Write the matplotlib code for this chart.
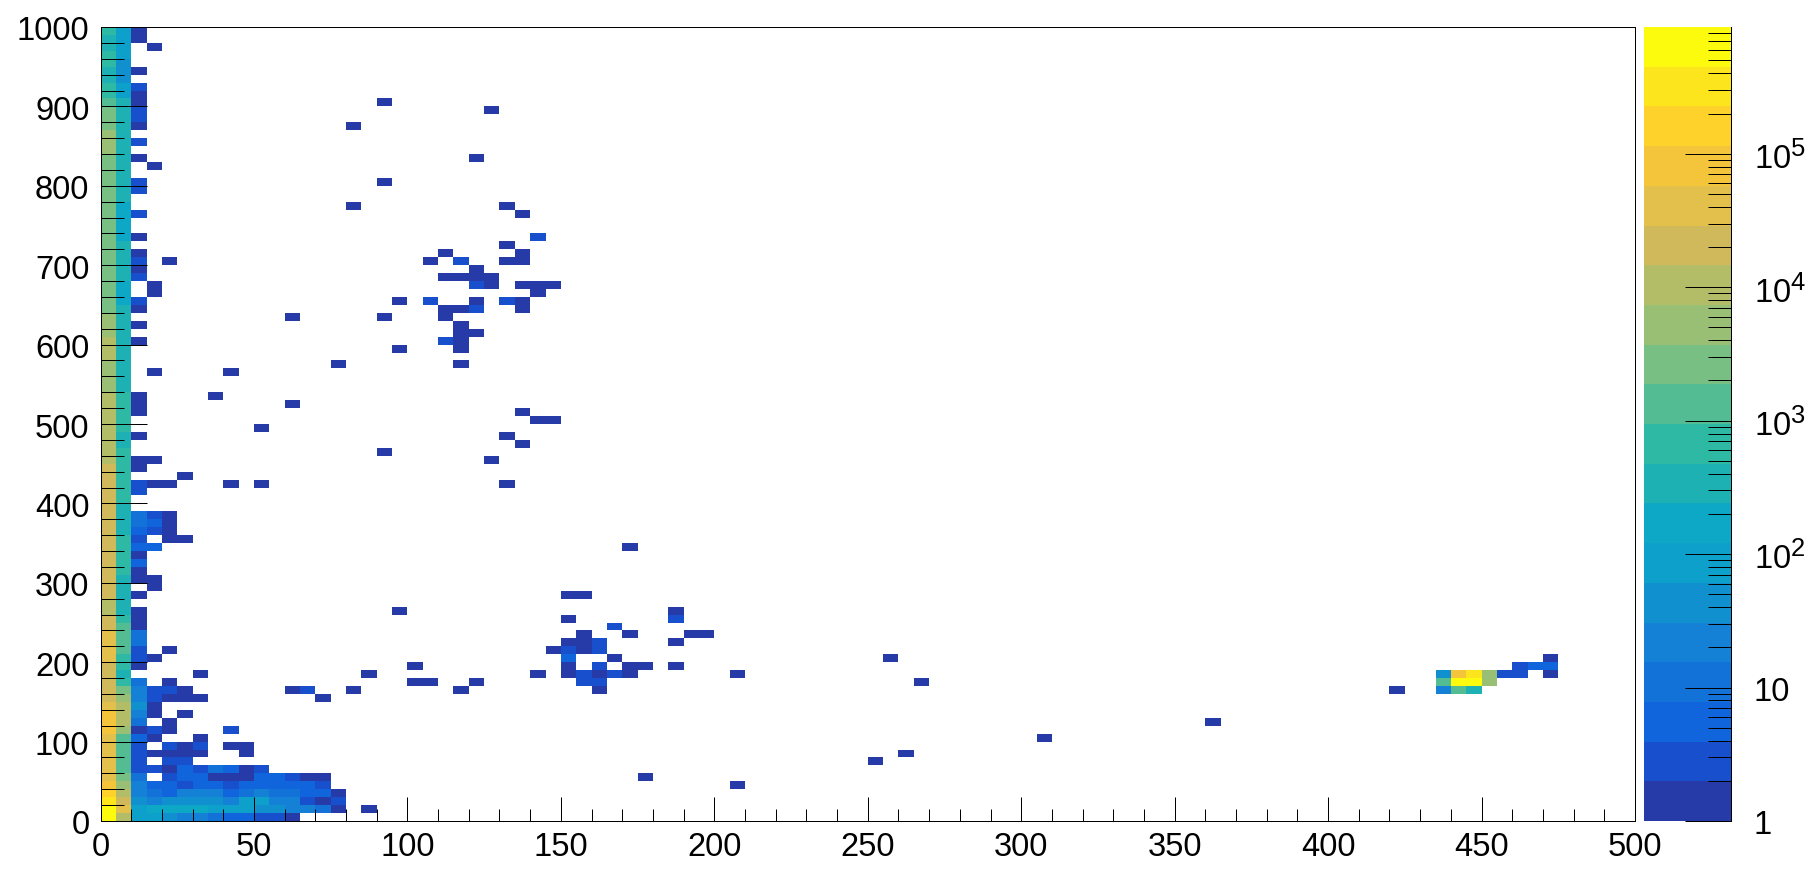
import numpy as np
import matplotlib
matplotlib.use("Agg")
import matplotlib.pyplot as plt
import matplotlib._mathtext as _mathtext
from matplotlib.colors import ListedColormap, LogNorm
from matplotlib.ticker import MultipleLocator, FixedLocator, FixedFormatter, NullFormatter
from matplotlib.transforms import ScaledTranslation

plt.rcParams['font.family'] = ['Liberation Sans', 'DejaVu Sans']
plt.rcParams['mathtext.default'] = 'regular'
_mathtext.SHRINK_FACTOR = 0.78

# histogram binning
x_edges = np.arange(0, 505, 5)
y_edges = np.arange(0, 1010, 10)
z_log_max = 5.95
n_bands = 20

# palette bands, bottom to top
band_colors = ['#263AA8', '#174FCC', '#1064DC', '#1272D8', '#1481D6', '#1090CF', '#0CA0CB',
               '#0DA8C5', '#1EB1B3', '#2EB9A5', '#54BC92', '#77BF82', '#98BF73', '#B3BC67',
               '#CFB95B', '#E3BF4B', '#F4C53A', '#FED22A', '#FDE51E', '#FCFB0E']

# counts in first x bin (0-5), per y bin
col0_counts = [640000, 640000, 323000, 163000, 82000, 41000, 41000, 41000, 41000, 41000,
               41000, 82000, 82000, 82000, 41000, 21000, 21000, 21000, 21000, 21000,
               41000, 41000, 41000, 41000, 21000, 21000, 10500, 10500, 21000, 21000,
               21000, 21000, 21000, 21000, 21000, 21000, 21000, 21000, 21000, 21000,
               21000, 21000, 21000, 21000, 21000, 10500, 10500, 10500, 10500, 10500,
               10500, 10500, 10500, 10500, 5300, 5300, 5300, 5300, 10500, 10500,
               10500, 5300, 5300, 5300, 2700, 2700, 2700, 2700, 2700, 2700,
               2700, 2700, 2700, 2700, 2700, 2700, 2700, 2700, 2700, 2700,
               2700, 2700, 2700, 2700, 5300, 5300, 5300, 2700, 2700, 2700,
               1350, 680, 680, 340, 340, 680, 680, 340, 340, 680]

# counts in second x bin (5-10), per y bin
col1_counts = [10500, 41000, 21000, 10500, 5300, 2700, 1350, 1350, 1350, 1350,
               1350, 5300, 10500, 10500, 10500, 5300, 2700, 680, 340, 680,
               680, 1350, 1350, 1350, 1350, 680, 340, 340, 340, 340,
               340, 680, 680, 680, 680, 680, 340, 340, 340, 340,
               680, 680, 680, 680, 680, 680, 680, 340, 340, 680,
               680, 680, 680, 680, 340, 340, 340, 340, 340, 340,
               340, 340, 340, 340, 340, 172, 172, 172, 340, 340,
               340, 340, 340, 172, 172, 172, 172, 172, 340, 340,
               340, 340, 340, 340, 340, 340, 340, 340, 340, 340,
               340, 87, 87, 44, 44, 44, 87, 87, 87, 87]

# other filled cells: (x bin, y bin, count)
other_cells = [
    (2,0,87),(3,0,87),(4,0,44),(5,0,22),(6,0,22),(7,0,11),(8,0,5),(9,0,5),(10,0,3),(11,0,3),(12,0,1),
    (2,1,87),(3,1,172),(4,1,172),(5,1,172),(6,1,172),(7,1,87),(8,1,87),(9,1,87),(10,1,44),(11,1,44),(12,1,22),(13,1,22),(14,1,11),(15,1,1),(17,1,1),
    (2,2,44),(3,2,22),(4,2,44),(5,2,44),(6,2,44),(7,2,44),(8,2,22),(9,2,87),(10,2,87),(11,2,22),(12,2,22),(13,2,3),(14,2,1),(15,2,3),
    (2,3,22),(3,3,11),(4,3,5),(5,3,22),(6,3,22),(7,3,22),(8,3,5),(9,3,11),(10,3,22),(11,3,11),(12,3,11),(13,3,5),(14,3,5),(15,3,1),
    (2,4,22),(3,4,5),(4,4,5),(5,4,3),(6,4,5),(7,4,5),(8,4,3),(9,4,5),(10,4,5),(11,4,5),(12,4,5),(13,4,5),(14,4,3),(41,4,1),
    (2,5,11),(4,5,3),(5,5,5),(6,5,5),(7,5,1),(8,5,1),(9,5,1),(10,5,5),(11,5,5),(12,5,3),(13,5,1),(14,5,1),(35,5,1),
    (2,6,3),(3,6,3),(4,6,1),(5,6,5),(6,6,3),(7,6,11),(8,6,5),(9,6,1),(10,6,3),
    (2,7,3),(4,7,3),(5,7,3),(50,7,1),
    (2,8,3),(3,8,1),(4,8,1),(5,8,1),(6,8,1),(9,8,1),(52,8,1),
    (2,9,3),(4,9,3),(5,9,1),(6,9,3),(8,9,1),(9,9,1),
    (2,10,5),(3,10,1),(6,10,1),(61,10,1),
    (2,11,1),(3,11,3),(4,11,1),(8,11,3),
    (2,12,11),(4,12,1),(72,12,1),
    (2,13,22),(3,13,1),(5,13,1),
    (2,14,44),(3,14,1),
    (2,15,22),(3,15,3),(4,15,1),(5,15,1),(6,15,1),(14,15,1),
    (2,16,22),(3,16,3),(4,16,3),(5,16,1),(12,16,1),(13,16,3),(16,16,1),(23,16,1),(32,16,1),(84,16,1),(87,16,22),(88,16,1350),(89,16,340),
    (2,17,11),(4,17,1),(20,17,1),(21,17,1),(24,17,1),(31,17,3),(32,17,3),(53,17,1),(87,17,1350),(88,17,640000),(89,17,640000),(90,17,5300),
    (6,18,1),(17,18,1),(28,18,1),(30,18,1),(31,18,3),(32,18,1),(33,18,3),(34,18,1),(41,18,1),(87,18,44),(88,18,82000),(89,18,323000),(90,18,5300),(91,18,3),(92,18,3),(94,18,1),
    (2,19,1),(20,19,1),(30,19,1),(32,19,3),(34,19,1),(35,19,1),(37,19,1),(92,19,3),(93,19,5),(94,19,5),
    (2,20,3),(3,20,1),(30,20,5),(33,20,1),(51,20,1),(94,20,1),
    (2,21,3),(4,21,1),(29,21,1),(30,21,3),(31,21,1),(32,21,3),
    (2,22,11),(30,22,1),(31,22,1),(32,22,3),(37,22,1),
    (2,23,11),(31,23,1),(34,23,1),(38,23,1),(39,23,1),
    (2,24,1),(33,24,3),
    (2,25,1),(30,25,1),(37,25,3),
    (2,26,1),(19,26,1),(37,26,1),
    (2,28,1),(30,28,1),(31,28,1),
    (3,29,1),
    (2,30,1),(3,30,1),
    (2,31,1),
    (2,32,5),
    (2,33,1),
    (2,34,5),(3,34,5),(34,34,1),
    (2,35,3),(4,35,1),(5,35,1),
    (2,36,5),(3,36,3),(4,36,1),
    (2,37,11),(3,37,5),(4,37,1),
    (2,38,11),(3,38,3),(4,38,1),
    (2,41,3),
    (2,42,3),(3,42,1),(4,42,1),(8,42,1),(10,42,1),(26,42,1),
    (5,43,1),
    (2,44,1),
    (2,45,1),(3,45,1),(25,45,1),
    (18,46,1),
    (27,47,1),
    (2,48,1),(26,48,1),
    (10,49,1),
    (28,50,1),(29,50,1),
    (2,51,1),(27,51,1),
    (2,52,1),(12,52,1),
    (2,53,1),(7,53,1),
    (3,56,1),(8,56,1),
    (15,57,1),(23,57,1),
    (19,59,1),(23,59,1),
    (2,60,1),(22,60,3),(23,60,1),
    (23,61,1),(24,61,1),
    (2,62,1),(23,62,1),
    (12,63,1),(18,63,1),(22,63,1),
    (2,64,1),(22,64,1),(23,64,1),(24,64,3),(27,64,1),
    (2,65,3),(19,65,1),(21,65,3),(24,65,1),(26,65,3),(27,65,1),
    (3,66,1),(28,66,1),
    (3,67,1),(24,67,3),(25,67,1),(27,67,1),(28,67,1),(29,67,1),
    (2,68,3),(22,68,1),(23,68,1),(24,68,1),(25,68,1),
    (2,69,1),(24,69,1),
    (2,70,3),(4,70,1),(21,70,1),(23,70,3),(26,70,1),(27,70,1),
    (2,71,1),(22,71,1),(27,71,1),
    (26,72,1),
    (2,73,1),(28,73,3),
    (2,76,3),(27,76,1),
    (16,77,1),(26,77,1),
    (2,79,3),
    (2,80,3),(18,80,1),
    (3,82,1),
    (2,83,1),(24,83,1),
    (2,85,3),
    (2,87,1),(16,87,1),
    (2,88,3),
    (2,89,3),(25,89,1),
    (2,90,1),(18,90,1),
    (2,91,1),
    (2,92,3),
    (2,94,1),
    (3,97,1),
    (2,98,1),
    (2,99,1),
]

# axis ticks
x_major = 50
x_minor = 10
y_major = 100
y_minor = 20
cbar_major_ticks = [1, 10, 100, 1000, 10000, 100000]
cbar_major_labels = ['1', '10', r'$\mathdefault{10^{2}}$', r'$\mathdefault{10^{3}}$',
                     r'$\mathdefault{10^{4}}$', r'$\mathdefault{10^{5}}$']

W, H = 1812, 885
DPI = 100
PX = 72 / DPI


def box(left, top, right, bottom):
    return [left / W, (H - bottom) / H, (right - left) / W, (bottom - top) / H]


counts = np.zeros((len(y_edges) - 1, len(x_edges) - 1))
counts[:, 0] = col0_counts
counts[:, 1] = col1_counts
for c, r, v in other_cells:
    counts[r, c] = v
masked = np.ma.masked_equal(counts, 0)

cmap = ListedColormap(band_colors)
norm = LogNorm(vmin=1, vmax=10 ** z_log_max)

fig = plt.figure(figsize=(W / DPI, H / DPI), dpi=DPI, facecolor='white')

ax = fig.add_axes(box(100.5, 27, 1635, 821))
ax.pcolormesh(x_edges, y_edges, masked, cmap=cmap, norm=norm, edgecolors='none', antialiased=False)
ax.set_xlim(0, 500)
ax.set_ylim(0, 1000)
ax.xaxis.set_major_locator(MultipleLocator(x_major))
ax.xaxis.set_minor_locator(MultipleLocator(x_minor))
ax.yaxis.set_major_locator(MultipleLocator(y_major))
ax.yaxis.set_minor_locator(MultipleLocator(y_minor))
ax.tick_params(axis='x', which='major', direction='in', length=24 * PX, width=1.0 * PX, labelsize=23.5, pad=8)
ax.tick_params(axis='x', which='minor', direction='in', length=12 * PX, width=1.0 * PX)
ax.tick_params(axis='y', which='major', direction='in', length=46 * PX, width=1.0 * PX, labelsize=23.5, pad=8)
ax.tick_params(axis='y', which='minor', direction='in', length=23 * PX, width=1.0 * PX)
for s in ax.spines.values():
    s.set_linewidth(1.0 * PX)

cax = fig.add_axes(box(1644, 27, 1731, 821))
levels = np.logspace(0, z_log_max, n_bands + 1)
centres = np.sqrt(levels[:-1] * levels[1:]).reshape(-1, 1)
cax.pcolormesh([0, 1], levels, centres, cmap=cmap, norm=norm, edgecolors='none', antialiased=False)
cax.set_yscale('log')
cax.set_xlim(0, 1)
cax.set_ylim(1, 10 ** z_log_max)
cax.set_xticks([])
for name, s in cax.spines.items():
    s.set_visible(name == 'right')
    s.set_linewidth(1.0 * PX)
cax.yaxis.set_ticks_position('right')
cax.yaxis.set_major_locator(FixedLocator(cbar_major_ticks))
cax.yaxis.set_major_formatter(FixedFormatter(cbar_major_labels))
cbar_minor = [m * 10 ** e for e in range(6) for m in range(2, 10) if m * 10 ** e < 10 ** z_log_max]
cax.yaxis.set_minor_locator(FixedLocator(cbar_minor))
cax.yaxis.set_minor_formatter(NullFormatter())
cax.tick_params(axis='y', which='major', direction='in', length=46 * PX, width=1.0 * PX, labelsize=23.5, pad=16.5)
cax.tick_params(axis='y', which='minor', direction='in', length=23 * PX, width=1.0 * PX)

# the reference sets its y labels a little below the tick position
shift = ScaledTranslation(0, -1.5 / DPI, fig.dpi_scale_trans)
for axis in (ax.yaxis, cax.yaxis):
    for lab in axis.get_ticklabels():
        lab.set_transform(lab.get_transform() + shift)

fig.savefig('out.png', dpi=DPI, facecolor='white')
